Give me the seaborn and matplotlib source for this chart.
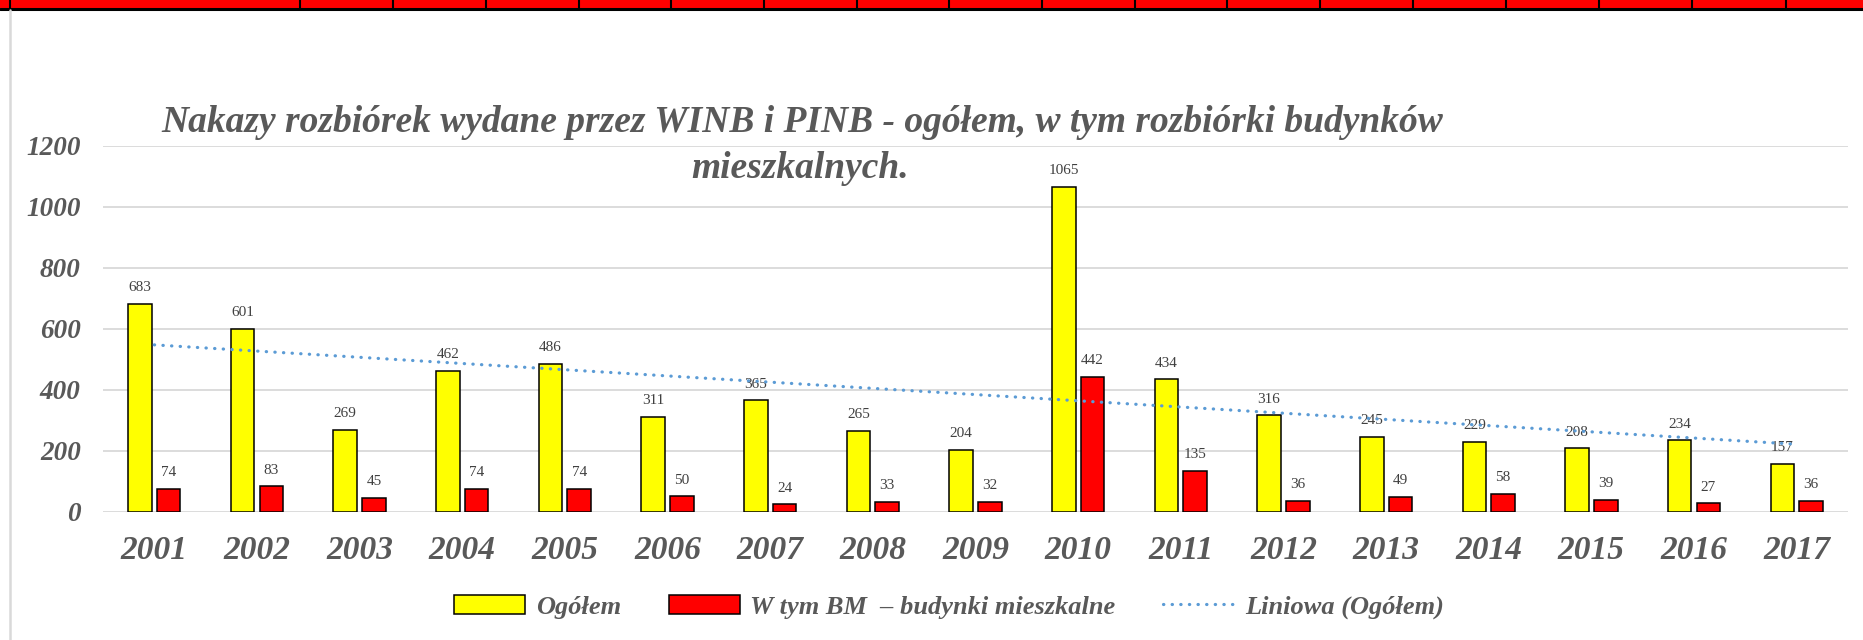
import numpy as np
import pandas as pd
import seaborn as sns
import matplotlib.pyplot as plt
from matplotlib.patches import Rectangle
from matplotlib.lines import Line2D

sns.set_style("white")
plt.rcParams["font.family"] = ["Liberation Serif", "DejaVu Serif"]

# ===================== DATA =====================
years = ["2001", "2002", "2003", "2004", "2005", "2006", "2007", "2008", "2009",
         "2010", "2011", "2012", "2013", "2014", "2015", "2016", "2017"]
ogolem = [683, 601, 269, 462, 486, 311, 365, 265, 204,
          1065, 434, 316, 245, 229, 208, 234, 157]
mieszkalne = [74, 83, 45, 74, 74, 50, 24, 33, 32,
              442, 135, 36, 49, 58, 39, 27, 36]

s_all = "Ogółem"
s_bm = "W tym BM  – budynki mieszkalne"
s_trend = "Liniowa (Ogółem)"
title_1 = "Nakazy rozbiórek wydane przez WINB i PINB - ogółem, w tym rozbiórki budynków"
title_2 = "mieszkalnych."

df = pd.DataFrame({
    "Rok": years * 2,
    "Wartość": ogolem + mieszkalne,
    "Seria": [s_all] * len(years) + [s_bm] * len(years),
})

GRAY = "#595959"

# ===================== FIGURE =====================
fig = plt.figure(figsize=(18.63, 6.4), dpi=100)
ax = fig.add_axes([103 / 1863, 128.3 / 640, 1745 / 1863, 365.7 / 640])

sns.barplot(
    data=df, x="Rok", y="Wartość", hue="Seria",
    palette={s_all: "#FFFF00", s_bm: "#FF0000"}, saturation=1,
    width=0.56, gap=0.18, edgecolor="black", linewidth=1.1,
    ax=ax, zorder=2,
)

for cont in ax.containers:
    ax.bar_label(cont, padding=7, fontsize=11, color="#404040")

# linear trend of Ogółem (Excel "Liniowa")
xs = np.arange(len(years))
coef = np.polyfit(xs, ogolem, 1)
ax.plot(xs, np.polyval(coef, xs), color="#5B9BD5", lw=2.3,
        linestyle=(0, (0.1, 2.6)), dash_capstyle="round", zorder=4, label=s_trend)

# ===================== AXES STYLE =====================
ax.set_ylim(0, 1200)
ax.set_xlim(-0.5, len(years) - 0.5)
ax.set_yticks(range(0, 1201, 200))
ax.yaxis.grid(True, color="#D9D9D9", lw=1.3)
ax.set_axisbelow(True)
for sp in ax.spines.values():
    sp.set_visible(False)
ax.tick_params(axis="y", length=0, pad=16, labelsize=19.5, labelcolor=GRAY)
ax.tick_params(axis="x", length=0, pad=17, labelsize=24, labelcolor=GRAY)
for lab in ax.get_xticklabels() + ax.get_yticklabels():
    lab.set_fontweight("bold")
    lab.set_fontstyle("italic")
ax.set_xlabel("")
ax.set_ylabel("")

title_kw = dict(ha="center", va="center", fontsize=27, fontweight="bold",
                fontstyle="italic", color=GRAY)
fig.text(802 / 1863, 1 - 122 / 640, title_1, **title_kw)
fig.text(800 / 1863, 1 - 168 / 640, title_2, **title_kw)

# ===================== LEGEND =====================
handles, labels = ax.get_legend_handles_labels()
ax.get_legend().remove()
leg = fig.legend(handles, labels, loc="center", bbox_to_anchor=(949 / 1863, 1 - 607 / 640),
                 ncol=3, frameon=False, handlelength=2.7, handleheight=0.7,
                 handletextpad=0.4, columnspacing=1.8,
                 prop={"size": 19, "weight": "bold", "style": "italic"})
for t in leg.get_texts():
    t.set_color(GRAY)

# ===================== PAGE DECORATION =====================
fig.patches.append(Rectangle((0, 1 - 8 / 640), 1, 8 / 640, transform=fig.transFigure,
                             facecolor="#FF0000", edgecolor="none", zorder=0))
fig.lines.append(Line2D([0, 1], [1 - 9 / 640] * 2, transform=fig.transFigure,
                        color="black", lw=2.2))
for xp in [10, 300, 393, 486, 579, 671, 764, 857, 949, 1042, 1135, 1227,
           1320, 1413, 1506, 1599, 1692, 1786]:
    fig.lines.append(Line2D([xp / 1863] * 2, [1 - 8 / 640, 1], transform=fig.transFigure,
                            color="black", lw=1.5))
fig.lines.append(Line2D([10 / 1863] * 2, [0, 1 - 10 / 640], transform=fig.transFigure,
                        color="#D9D9D9", lw=1.8))

fig.savefig("out.png", dpi=100)
